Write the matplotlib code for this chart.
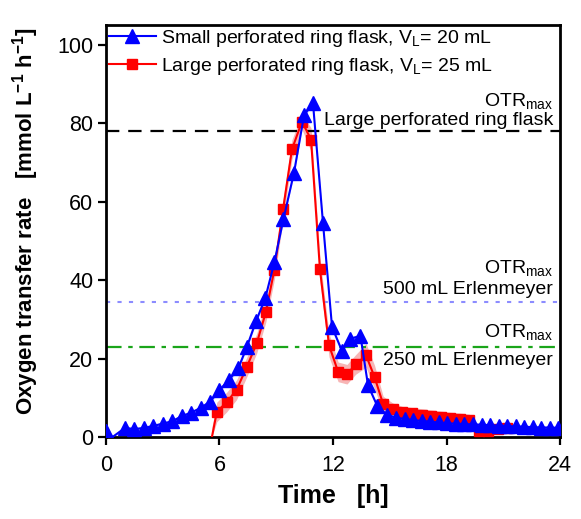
import matplotlib
matplotlib.use("Agg")
import matplotlib.pyplot as plt
import numpy as np

plt.rcParams['font.family'] = ['Liberation Sans', 'DejaVu Sans']
plt.rcParams['mathtext.fontset'] = 'custom'
plt.rcParams['mathtext.rm'] = 'Liberation Sans'
plt.rcParams['mathtext.it'] = 'Liberation Sans:italic'
plt.rcParams['mathtext.bf'] = 'Liberation Sans:bold'

# Small perforated ring flask, VL = 20 mL
small_t = [0.0, 0.35, 1.0, 1.5, 2.0, 2.5, 3.0, 3.5, 4.0, 4.5, 5.0, 5.5, 6.0, 6.5, 7.0,
           7.45, 7.93, 8.42, 8.9, 9.38, 9.94, 10.47, 10.94, 11.47, 11.95, 12.47,
           12.9, 13.45, 13.85, 14.35, 14.85, 15.35, 15.8, 16.25, 16.7, 17.15, 17.6,
           18.05, 18.5, 18.95, 19.4, 19.85, 20.3, 20.75, 21.2, 21.65, 22.1, 22.55,
           23.0, 23.45, 23.9, 24.0]
small_v = [1.5, 0.0, 2.3, 2.0, 2.3, 2.8, 3.4, 4.0, 5.3, 6.2, 7.4, 9.0, 12.0, 14.5, 17.6,
           23.0, 29.5, 35.4, 44.5, 55.5, 67.4, 82.0, 85.2, 54.6, 28.0, 22.0,
           25.0, 25.8, 13.2, 7.8, 5.7, 4.9, 4.6, 4.3, 4.1, 3.9, 3.7,
           3.5, 3.4, 3.3, 3.2, 3.1, 3.0, 2.9, 2.8, 2.7, 2.6, 2.5,
           2.4, 2.4, 2.3, 2.3]
small_sd = [0.5] * len(small_t)

# Large perforated ring flask, VL = 25 mL
large_t = [5.6, 5.86, 6.38, 6.9, 7.44, 7.97, 8.45, 8.9, 9.36, 9.83, 10.36, 10.84,
           11.31, 11.79, 12.27, 12.74, 13.2, 13.75, 14.2, 14.65, 15.15, 15.65,
           16.2, 16.7, 17.2, 17.7, 18.2, 18.7, 19.2, 19.7, 20.2, 20.7, 21.2]
large_v = [0.0, 6.4, 8.9, 12.0, 17.8, 23.9, 31.8, 42.6, 58.0, 73.3, 80.4, 75.8,
           42.7, 23.4, 16.6, 16.0, 18.5, 20.8, 15.2, 8.4, 7.2, 6.3,
           6.0, 5.7, 5.4, 5.1, 4.8, 4.6, 4.3, 1.6, 1.6, 2.0, 2.2]
large_sd = [2.5, 2.5, 2.5, 2.5, 2.5, 2.5, 2.5, 2.5, 2.5, 2.5, 2.0, 3.0,
            3.0, 3.0, 2.5, 2.5, 2.5, 3.0, 3.0, 2.0, 1.5, 1.5,
            1.5, 1.5, 1.5, 1.5, 1.5, 1.5, 1.5, 1.0, 1.0, 1.0, 1.0]

# Maximum oxygen transfer capacities
otr_large = 78.0
otr_500 = 34.3
otr_250 = 22.9

fig = plt.figure(figsize=(5.81, 5.19), dpi=100)
ax = fig.add_axes([0.1824, 0.158, 0.7815, 0.7938])

lt = np.array(large_t); lv = np.array(large_v); ls = np.array(large_sd)
st = np.array(small_t); sv = np.array(small_v); ss = np.array(small_sd)

ax.fill_between(lt, np.clip(lv - ls, 0, None), lv + ls, color='#f7b5b5', lw=0, zorder=1)
ax.fill_between(st, np.clip(sv - ss, 0, None), sv + ss, color='#c9c9ff', lw=0, zorder=1)

ax.axhline(otr_large, color='black', ls=(0, (6, 4)), lw=1.6, zorder=2)
ax.axhline(otr_500, color='#8c8cff', ls=(0, (2, 3.5)), lw=1.5, zorder=2)
ax.axhline(otr_250, color='#1aa51a', ls=(0, (7, 3, 2, 3)), lw=1.6, zorder=2)

small_marks = [i for i in range(len(small_t)) if i not in (1, len(small_t) - 1)]
large_marks = list(range(1, len(large_t)))

ax.plot(st, sv, color='#0000ff', lw=1.5, marker='^', ms=9.5, mec='#0000ff', mfc='#0000ff',
        markevery=small_marks, zorder=4,
        label='Small perforated ring flask, V$_\\mathrm{L}$= 20 mL')
ax.plot(lt, lv, color='#ff0000', lw=1.5, marker='s', ms=6.5, mec='#ff0000', mfc='#ff0000',
        markevery=large_marks, zorder=3,
        label='Large perforated ring flask, V$_\\mathrm{L}$= 25 mL')

ax.set_xlim(0, 24)
ax.set_ylim(0, 105)
ax.set_xticks([0, 6, 12, 18, 24])
ax.set_yticks([0, 20, 40, 60, 80, 100])
ax.tick_params(direction='out', length=6, width=1.6, labelsize=15.5)
ax.tick_params(axis='x', pad=7)
ax.tick_params(axis='y', pad=3)
for sp in ax.spines.values():
    sp.set_linewidth(2)

ax.set_xlabel('Time   [h]', fontsize=18, fontweight='bold', labelpad=6)
ax.set_ylabel('Oxygen transfer rate   [mmol L$^{\\mathbf{-1}}$ h$^{\\mathbf{-1}}$]',
              fontsize=16, fontweight='bold')
ax.yaxis.set_label_coords(-0.143, 0.525)

tx = 23.63
fs = 14
ax.text(tx, 85.7, 'OTR$_\\mathrm{max}$', ha='right', va='center', fontsize=fs)
ax.text(tx, 80.6, 'Large perforated ring flask', ha='right', va='center', fontsize=fs)
ax.text(tx, 43.0, 'OTR$_\\mathrm{max}$', ha='right', va='center', fontsize=fs)
ax.text(tx, 37.5, '500 mL Erlenmeyer', ha='right', va='center', fontsize=fs)
ax.text(tx, 26.7, 'OTR$_\\mathrm{max}$', ha='right', va='center', fontsize=fs)
ax.text(tx, 19.6, '250 mL Erlenmeyer', ha='right', va='center', fontsize=fs)

leg = ax.legend(loc='upper left', fontsize=fs, frameon=False, handlelength=2.4,
                borderaxespad=0.1, borderpad=0.05, labelspacing=0.35, handletextpad=0.3)

fig.savefig('out.png', dpi=100)
